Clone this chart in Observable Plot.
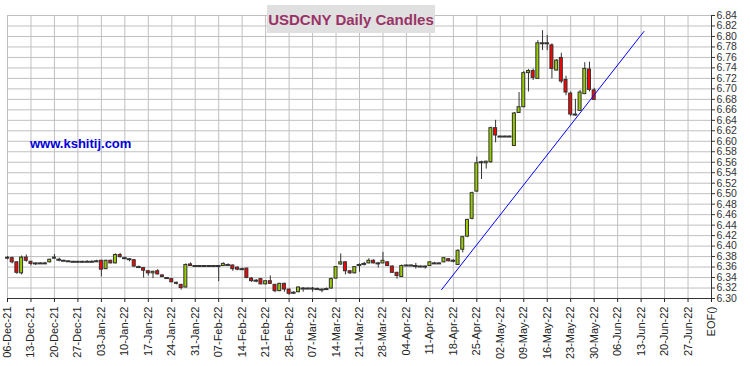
<!DOCTYPE html>
<html><head><meta charset="utf-8">
<script src="https://cdn.jsdelivr.net/npm/d3@7"></script>
<script src="https://cdn.jsdelivr.net/npm/@observablehq/plot@0.6"></script>
<style>body{margin:0;background:#fff} #chart{width:750px;height:366px}</style>
</head><body><div id="chart"></div>
<script>
const weekLabels = ["06-Dec-21","13-Dec-21","20-Dec-21","27-Dec-21","03-Jan-22","10-Jan-22","17-Jan-22","24-Jan-22","31-Jan-22","07-Feb-22","14-Feb-22","21-Feb-22","28-Feb-22","07-Mar-22","14-Mar-22","21-Mar-22","28-Mar-22","04-Apr-22","11-Apr-22","18-Apr-22","25-Apr-22","02-May-22","09-May-22","16-May-22","23-May-22","30-May-22","06-Jun-22","13-Jun-22","20-Jun-22","27-Jun-22","EOF()"];

// one candle per weekday starting 06-Dec-21
const openP = [6.378,6.377,6.369,6.348,6.378,6.370,6.367,6.367,6.367,6.369,
6.376,6.374,6.372,6.371,6.370,6.370,6.370,6.370,6.370,6.371,
6.372,6.356,6.372,6.367,6.383,6.377,6.375,6.373,6.360,6.358,
6.352,6.348,6.352,6.344,6.339,6.337,6.330,6.326,6.321,6.365,
6.362,6.362,6.362,6.362,6.362,6.362,6.362,6.364,6.363,6.359,
6.356,6.357,6.338,6.334,6.337,6.327,6.333,6.326,6.314,6.328,
6.317,6.311,6.312,6.319,6.319,6.319,6.318,6.317,6.318,6.319,
6.338,6.365,6.369,6.352,6.348,6.364,6.366,6.367,6.372,6.367,
6.367,6.369,6.361,6.349,6.341,6.363,6.363,6.362,6.361,6.361,
6.362,6.367,6.367,6.369,6.375,6.372,6.364,6.393,6.418,6.452,
6.504,6.560,6.558,6.560,6.625,6.609,6.609,6.609,6.591,6.654,
6.665,6.730,6.734,6.719,6.787,6.787,6.783,6.735,6.759,6.717,
6.691,6.651,6.658,6.690,6.737,6.697];
const highP = [6.380,6.379,6.370,6.381,6.383,6.371,6.368,6.368,6.369,6.375,
6.384,6.377,6.373,6.372,6.371,6.371,6.371,6.372,6.372,6.373,
6.373,6.373,6.373,6.385,6.386,6.379,6.376,6.374,6.362,6.359,
6.353,6.352,6.355,6.345,6.340,6.338,6.331,6.327,6.366,6.368,
6.362,6.362,6.362,6.362,6.362,6.362,6.368,6.366,6.364,6.360,
6.358,6.358,6.340,6.336,6.338,6.334,6.343,6.327,6.329,6.329,
6.318,6.313,6.322,6.321,6.320,6.321,6.320,6.318,6.320,6.339,
6.361,6.385,6.370,6.353,6.361,6.366,6.369,6.376,6.374,6.369,
6.388,6.370,6.362,6.350,6.364,6.364,6.364,6.367,6.362,6.362,
6.370,6.369,6.368,6.378,6.376,6.374,6.393,6.418,6.451,6.503,
6.570,6.562,6.562,6.627,6.640,6.610,6.610,6.610,6.655,6.693,
6.733,6.737,6.738,6.792,6.811,6.802,6.786,6.756,6.768,6.724,
6.694,6.680,6.697,6.750,6.751,6.701];
const lowP = [6.374,6.366,6.346,6.345,6.369,6.362,6.363,6.365,6.366,6.368,
6.375,6.370,6.370,6.369,6.369,6.369,6.368,6.369,6.369,6.370,
6.341,6.355,6.366,6.366,6.377,6.374,6.370,6.359,6.357,6.339,
6.343,6.338,6.345,6.340,6.337,6.330,6.326,6.316,6.320,6.361,
6.362,6.362,6.362,6.362,6.362,6.332,6.361,6.363,6.352,6.353,
6.355,6.338,6.331,6.330,6.326,6.326,6.327,6.311,6.313,6.312,
6.306,6.308,6.311,6.312,6.317,6.312,6.316,6.311,6.316,6.318,
6.337,6.363,6.345,6.346,6.347,6.350,6.362,6.366,6.366,6.358,
6.366,6.361,6.348,6.337,6.340,6.362,6.362,6.356,6.359,6.356,
6.361,6.365,6.365,6.368,6.370,6.368,6.363,6.387,6.416,6.450,
6.502,6.527,6.547,6.558,6.597,6.608,6.608,6.608,6.590,6.653,
6.664,6.694,6.716,6.718,6.773,6.773,6.719,6.734,6.710,6.687,
6.647,6.648,6.657,6.689,6.694,6.678];
const closeP = [6.376,6.369,6.349,6.378,6.372,6.366,6.367,6.367,6.367,6.374,
6.378,6.374,6.372,6.371,6.370,6.370,6.370,6.370,6.370,6.371,
6.355,6.372,6.367,6.383,6.379,6.377,6.375,6.361,6.360,6.353,
6.348,6.351,6.346,6.341,6.339,6.331,6.328,6.320,6.364,6.362,
6.362,6.362,6.362,6.362,6.362,6.362,6.366,6.364,6.356,6.355,
6.356,6.339,6.333,6.334,6.327,6.333,6.328,6.314,6.328,6.317,
6.309,6.311,6.321,6.319,6.319,6.319,6.318,6.317,6.318,6.337,
6.360,6.369,6.352,6.348,6.360,6.364,6.366,6.372,6.367,6.367,
6.372,6.362,6.349,6.343,6.362,6.363,6.363,6.362,6.361,6.361,
6.369,6.367,6.367,6.377,6.371,6.372,6.391,6.417,6.450,6.501,
6.558,6.560,6.561,6.625,6.611,6.609,6.609,6.609,6.653,6.665,
6.730,6.734,6.721,6.787,6.787,6.787,6.738,6.754,6.714,6.693,
6.651,6.651,6.693,6.738,6.698,6.679];

const trendIdx = [92.5, 135.6];
const trendVal = [6.317, 6.8095];

const yTicks = d3.range(0, 28).map(k => +(6.30 + k * 0.02).toFixed(2));
const xTicks = weekLabels.map((_, k) => k * 5);

const candles = openP.map((o, i) => ({i, o, h: highP[i], l: lowP[i], c: closeP[i]}));
const bodies = candles.filter(d => d.o !== d.c);
const dojis = candles.filter(d => d.o === d.c);
const trend = trendIdx.map((x, k) => ({x, y: trendVal[k]}));

const font = "'Liberation Sans', Arial, sans-serif";
const plot = Plot.plot({
  width: 750, height: 366,
  marginLeft: 7, marginRight: 39, marginTop: 15, marginBottom: 68,
  style: {fontFamily: font, background: "#fff", overflow: "visible"},
  x: {type: "linear", domain: [0, 150]},
  y: {domain: [6.30, 6.84]},
  marks: [
    Plot.gridX(xTicks, {stroke: "#c0c0c0", strokeOpacity: 1}),
    Plot.gridY(yTicks, {stroke: "#c0c0c0", strokeOpacity: 1}),
    Plot.axisX(xTicks, {tickFormat: d => weekLabels[Math.round(d / 5)], tickRotate: -90, tickSize: 4, tickPadding: 4, fontSize: 11, color: "#222", label: null}),
    Plot.axisY(yTicks, {anchor: "right", tickFormat: d => d.toFixed(2), tickSize: 3, tickPadding: 2, fontSize: 10.5, color: "#333", label: null}),
    Plot.ruleY([6.30], {stroke: "#333"}),
    Plot.ruleX([150], {stroke: "#333"}),
    Plot.ruleX(candles, {x: "i", y1: "l", y2: "h", stroke: "#333", strokeWidth: 1}),
    Plot.rect(bodies, {x1: d => d.i - 0.32, x2: d => d.i + 0.32, y1: "o", y2: "c",
      fill: d => d.c > d.o ? "#99cc00" : "#ff0000", stroke: "#333", strokeWidth: 1}),
    Plot.ruleY(dojis, {y: "c", x1: d => d.i - 0.5, x2: d => d.i + 0.5, stroke: "#333", strokeWidth: 2}),
    Plot.line(trend, {x: "x", y: "y", stroke: "#0000ff", strokeWidth: 1})
  ]
});

const svg = d3.select(plot);
svg.append("rect").attr("x", 267).attr("y", 5).attr("width", 168).attr("height", 28).attr("fill", "#e0e0e0");
svg.append("text").attr("x", 351).attr("y", 25).attr("text-anchor", "middle")
  .attr("font-family", font).attr("font-weight", "bold").attr("font-size", 15)
  .attr("fill", "#993366").text("USDCNY Daily Candles");
svg.append("text").attr("x", 30).attr("y", 147.5).attr("text-anchor", "start")
  .attr("font-family", font).attr("font-weight", "bold").attr("font-size", 13)
  .attr("fill", "#0000dd").text("www.kshitij.com");

document.getElementById("chart").appendChild(plot);
</script>
</body></html>
